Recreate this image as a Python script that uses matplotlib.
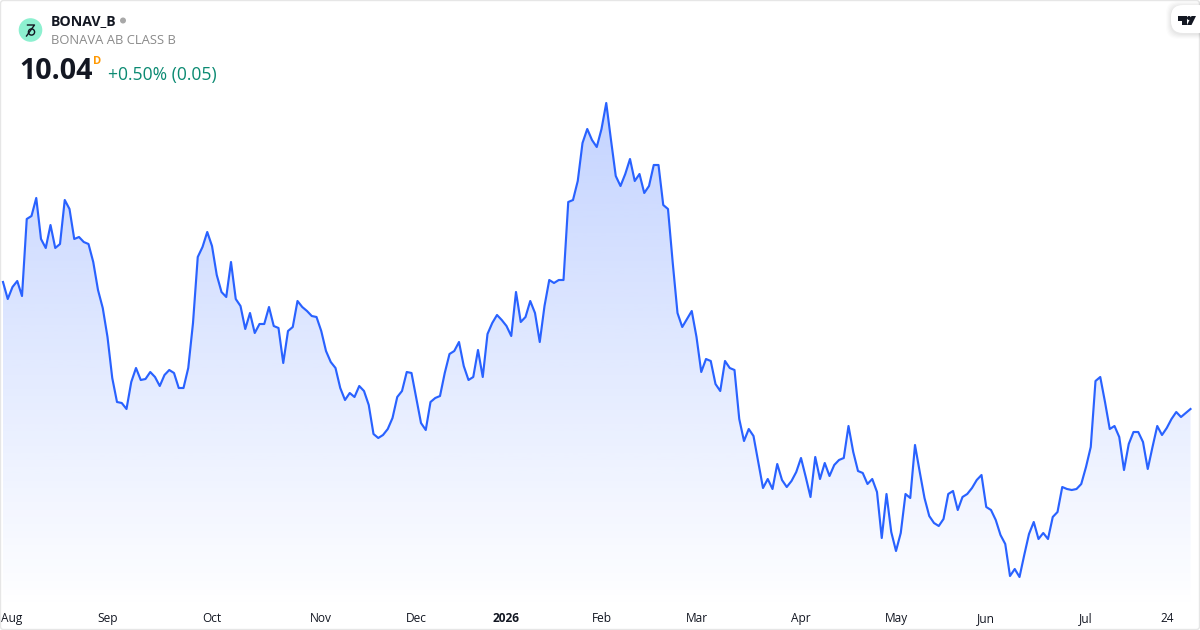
import numpy as np
import matplotlib
matplotlib.use("Agg")
import matplotlib.pyplot as plt
from matplotlib.patches import Circle, FancyBboxPatch, Polygon

plt.rcParams["font.family"] = ["Open Sans", "DejaVu Sans"]

# daily closes (price axis is hidden so the scale is estimated)
closes = [
    11.31, 11.14, 11.26, 11.32, 11.17, 11.94, 11.97, 12.15, 11.74, 11.65,
    11.88, 11.65, 11.69, 12.13, 12.04, 11.74, 11.76, 11.71, 11.69, 11.51,
    11.23, 11.05, 10.76, 10.35, 10.11, 10.10, 10.04, 10.31, 10.45, 10.33,
    10.34, 10.41, 10.36, 10.27, 10.38, 10.43, 10.40, 10.25, 10.25, 10.45,
    10.90, 11.56, 11.66, 11.81, 11.67, 11.38, 11.21, 11.16, 11.51, 11.14,
    11.07, 10.84, 11.00, 10.80, 10.89, 10.89, 11.06, 10.87, 10.85, 10.50,
    10.82, 10.86, 11.12, 11.06, 11.02, 10.97, 10.96, 10.82, 10.62, 10.51,
    10.45, 10.25, 10.13, 10.20, 10.16, 10.27, 10.22, 10.08, 9.79, 9.75,
    9.78, 9.84, 9.95, 10.16, 10.22, 10.41, 10.40, 10.15, 9.90, 9.83,
    10.11, 10.15, 10.17, 10.40, 10.59, 10.62, 10.71, 10.47, 10.33, 10.36,
    10.63, 10.36, 10.79, 10.90, 10.98, 10.93, 10.87, 10.77, 11.21, 10.91,
    10.96, 11.12, 11.00, 10.71, 11.07, 11.33, 11.30, 11.33, 11.33, 12.11,
    12.13, 12.32, 12.70, 12.84, 12.73, 12.66, 12.84, 13.10, 12.73, 12.37,
    12.27, 12.39, 12.54, 12.32, 12.39, 12.20, 12.27, 12.48, 12.48, 12.08,
    12.04, 11.50, 11.00, 10.86, 10.94, 11.02, 10.76, 10.41, 10.54, 10.52,
    10.29, 10.22, 10.52, 10.45, 10.43, 9.94, 9.72, 9.84, 9.77, 9.51,
    9.25, 9.34, 9.24, 9.49, 9.33, 9.26, 9.32, 9.41, 9.55, 9.36,
    9.16, 9.56, 9.34, 9.50, 9.37, 9.48, 9.53, 9.55, 9.87, 9.61,
    9.42, 9.40, 9.29, 9.34, 9.21, 8.75, 9.19, 8.81, 8.62, 8.80,
    9.19, 9.15, 9.68, 9.41, 9.15, 8.97, 8.90, 8.87, 8.94, 9.19,
    9.22, 9.03, 9.16, 9.19, 9.25, 9.33, 9.38, 9.06, 9.03, 8.93,
    8.78, 8.69, 8.37, 8.44, 8.36, 8.58, 8.79, 8.91, 8.74, 8.80,
    8.74, 8.96, 9.01, 9.26, 9.24, 9.23, 9.24, 9.29, 9.46, 9.66,
    10.32, 10.36, 10.11, 9.84, 9.87, 9.76, 9.43, 9.69, 9.81, 9.81,
    9.71, 9.44, 9.66, 9.87, 9.78, 9.85, 9.94, 10.01, 9.96, 10.00,
    10.04,
]
month_labels = ["Sep", "Oct", "Nov", "Dec", "2026", "Feb", "Mar", "Apr", "May", "Jun", "Jul", "24"]
month_idx = [22, 44, 67, 87, 106, 126, 146, 168, 188, 207, 228, 245]

LINE = "#2962FF"
TEXT = "#131722"
GREY = "#8a8a8a"

fig = plt.figure(figsize=(12, 6.3), dpi=100, facecolor="white")
ax = fig.add_axes([0, 0, 1, 1])
ax.set_axis_off()

days = np.arange(len(closes))

# area gradient, clipped to the area under the line
grad = np.zeros((256, 1, 4))
grad[..., :3] = matplotlib.colors.to_rgb(LINE)
grad[..., 3] = np.linspace(0.28, 0.0, 256).reshape(-1, 1)
img = ax.imshow(grad, extent=(days[0], days[-1], 8.03, 13.11), aspect="auto", zorder=1,
                interpolation="bilinear")
ax.set_xlim(-3 / 4.75, 1197 / 4.75)
ax.set_ylim(7.83, 14.13)
area = ax.fill_between(days, closes, 7.83, facecolor="none", edgecolor="none")
img.set_clip_path(area.get_paths()[0], transform=ax.transData)

ax.plot(days, closes, color=LINE, lw=1.55, zorder=3, solid_joinstyle="round")

# overlay in pixel coordinates for the header, x labels and frame
ov = fig.add_axes([0, 0, 1, 1], facecolor="none")
ov.set_axis_off()
ov.set_xlim(0, 1200)
ov.set_ylim(630, 0)

ov.add_patch(FancyBboxPatch((0.5, 0.5), 1199, 629, boxstyle="round,pad=0,rounding_size=3",
                            facecolor="none", edgecolor="#e6e6e6", lw=1, zorder=6))

ov.text(1, 618.5, "Aug", fontsize=8.6, color=TEXT, ha="left", va="center")
for lab, i in zip(month_labels, month_idx):
    ov.text(3 + 4.75 * i, 618.5, lab, fontsize=8.6, color=TEXT, ha="center", va="center",
            fontweight="bold" if lab == "2026" else "normal")

# logo
ov.add_patch(Circle((30.5, 30), 11.8, facecolor="#8df0d0", edgecolor="none", zorder=7))
ov.plot([27.5, 34.5, 26.5], [25, 25, 36], color=TEXT, lw=1.0, zorder=8, solid_joinstyle="round")
ov.add_patch(Circle((31.5, 32), 3.1, facecolor="none", edgecolor=TEXT, lw=1.0, zorder=8))

ov.text(51, 21, "BONAV_B", fontsize=10.2, color=TEXT, fontweight="bold", ha="left", va="center")
ov.add_patch(Circle((123, 20.5), 3, facecolor="#a8a8a8", edgecolor="none"))
ov.text(51, 41, "BONAVA AB CLASS B", fontsize=9.4, color=GREY, ha="left", va="center")
ov.text(19, 71.5, "10.04", fontsize=20.6, color=TEXT, fontweight="bold", ha="left", va="center")
ov.text(93, 61, "D", fontsize=8, color="#ff9800", fontweight="bold", ha="left", va="center")
ov.text(108, 75, "+0.50% (0.05)", fontsize=12.65, color="#0b8a72", ha="left", va="center")

# tradingview chip top right
for off, a in [(5, 0.012), (4, 0.015), (3, 0.018), (2, 0.02), (1, 0.025)]:
    ov.add_patch(FancyBboxPatch((1171 - off, 5 - off + 1), 40 + off, 28 + 2 * off,
                                boxstyle="round,pad=0,rounding_size=12", facecolor="black",
                                edgecolor="none", alpha=a, zorder=6))
ov.add_patch(FancyBboxPatch((1171, 5), 40, 28, boxstyle="round,pad=0,rounding_size=12",
                            facecolor="white", edgecolor="none", zorder=7))
ov.add_patch(Polygon([(1177.5, 16), (1187, 16), (1187, 25), (1182, 25), (1182, 20.5), (1177.5, 20.5)],
                     facecolor="#131722", edgecolor="none", zorder=8))
ov.add_patch(Circle((1189, 18), 2, facecolor="#131722", edgecolor="none", zorder=8))
ov.add_patch(Polygon([(1191.5, 16), (1196, 16), (1191.5, 25), (1187, 25)],
                     facecolor="#131722", edgecolor="none", zorder=8))
ov.set_xlim(0, 1200)
ov.set_ylim(630, 0)

fig.savefig("out.png", dpi=100)
